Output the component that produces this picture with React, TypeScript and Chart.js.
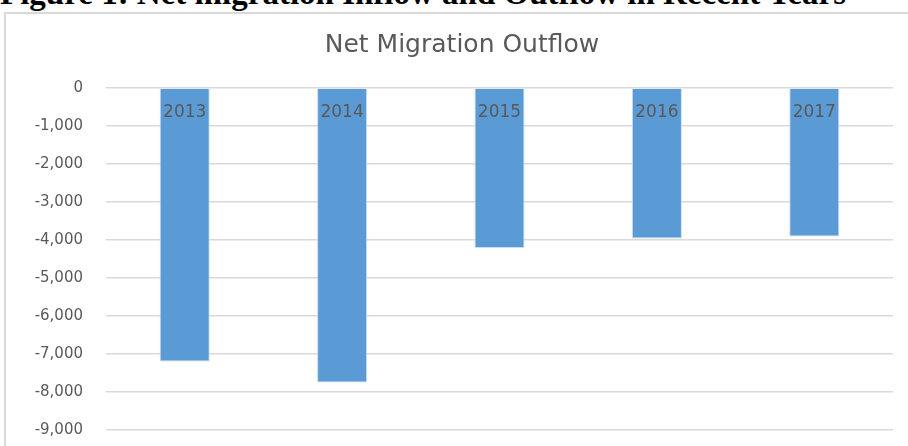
import React, { useEffect, useRef } from "react";
import { Chart, registerables } from "chart.js";

Chart.register(...registerables);

const caption = "Figure 1: Net migration Inflow and Outflow in Recent Years";
const chartTitle = "Net Migration Outflow";
const categories = ["2013", "2014", "2015", "2016", "2017"];
const outflowValues = [-7200, -7750, -4210, -3960, -3910];
const yMin = -9000;
const yMax = 0;
const yStep = 1000;

const fontFamily = "'DejaVu Sans', 'Open Sans', sans-serif";

// Draws the category labels just under the zero line, over the bars,
// using the chart's own x and y scales.
const innerCategoryLabels = {
  id: "innerCategoryLabels",
  afterDatasetsDraw(chart: any) {
    const x = chart.scales.x;
    const y = chart.scales.y;
    const ctx = chart.ctx;
    const zeroY = y.getPixelForValue(0);
    ctx.save();
    ctx.fillStyle = "#595959";
    ctx.font = `17px ${fontFamily}`;
    ctx.textAlign = "center";
    ctx.textBaseline = "middle";
    const labels = chart.data.labels as string[];
    labels.forEach((label, i) => {
      ctx.fillText(label, x.getPixelForTick(i), zeroY + 25);
    });
    ctx.restore();
  },
};

export default function App() {
  const canvasRef = useRef<HTMLCanvasElement | null>(null);

  useEffect(() => {
    if (!canvasRef.current) return;
    const chart = new Chart(canvasRef.current, {
      type: "bar",
      data: {
        labels: categories,
        datasets: [
          {
            label: chartTitle,
            data: outflowValues,
            backgroundColor: "#5b9bd5",
            borderColor: "#c9dcf0",
            borderWidth: 1,
            barPercentage: 0.318,
            categoryPercentage: 1,
          },
        ],
      },
      options: {
        responsive: false,
        animation: false,
        layout: { padding: { left: 31, right: 15, top: 0, bottom: 16 } },
        plugins: {
          legend: { display: false },
          tooltip: { enabled: false },
          title: {
            display: true,
            text: chartTitle,
            color: "#595959",
            font: { family: fontFamily, size: 25, weight: "normal", lineHeight: 1.2 },
            padding: { top: 30, bottom: 28 },
          },
        },
        scales: {
          x: {
            display: false,
          },
          y: {
            min: yMin,
            max: yMax,
            afterFit: (scale: any) => {
              scale.width = 75;
            },
            border: { display: false },
            grid: {
              color: "#d9d9d9",
              lineWidth: 1.5,
              drawTicks: true,
              tickLength: 23,
              tickColor: "rgba(0,0,0,0)",
            },
            ticks: {
              stepSize: yStep,
              color: "#595959",
              font: { family: fontFamily, size: 15 },
              padding: 0,
              callback: (v: any) => Number(v).toLocaleString("en-US"),
            },
          },
        },
      },
      plugins: [innerCategoryLabels],
    });
    return () => chart.destroy();
  }, []);

  return (
    <div
      style={{
        position: "absolute",
        left: 0,
        top: 0,
        width: 908,
        height: 446,
        overflow: "hidden",
        background: "#ffffff",
      }}
    >
      <div
        style={{
          position: "absolute",
          left: 0,
          top: -21,
          whiteSpace: "nowrap",
          fontFamily: "'Liberation Serif', serif",
          fontWeight: "bold",
          fontSize: 33,
          lineHeight: "28px",
          color: "#000",
        }}
      >
        {caption}
      </div>
      <div
        style={{
          position: "absolute",
          left: 4,
          top: 12,
          width: 1000,
          height: 1000,
          borderLeft: "2px solid #d9d9d9",
          borderTop: "2px solid #d9d9d9",
        }}
      />
      <canvas
        ref={canvasRef}
        width={908}
        height={446}
        style={{ position: "absolute", left: 0, top: 0 }}
      />
    </div>
  );
}
